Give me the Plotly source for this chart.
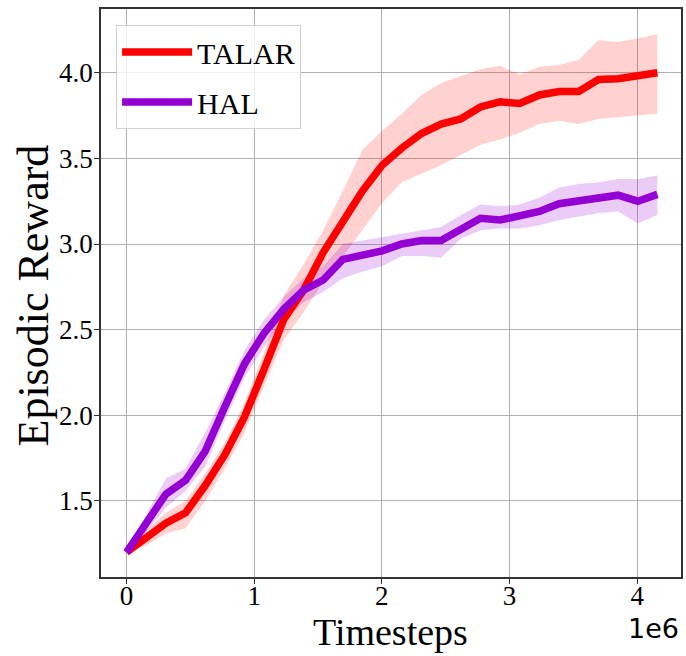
import plotly.graph_objects as go

# ---- data ----
timesteps = [0, 154000, 308000, 462000, 616000, 770000, 924000, 1078000, 1232000,
             1386000, 1540000, 1694000, 1848000, 2002000, 2156000, 2310000, 2464000,
             2618000, 2772000, 2926000, 3080000, 3234000, 3388000, 3542000, 3696000,
             3850000, 4004000, 4158000]

talar_mean = [1.20, 1.29, 1.37, 1.43, 1.59, 1.77, 1.99, 2.27, 2.56, 2.73, 2.95, 3.13,
              3.31, 3.46, 3.56, 3.645, 3.70, 3.73, 3.80, 3.83, 3.82, 3.87, 3.89, 3.89,
              3.96, 3.965, 3.98, 4.00]
talar_upper = [1.20, 1.33, 1.43, 1.50, 1.66, 1.84, 2.07, 2.37, 2.70, 2.88, 3.08, 3.31,
               3.55, 3.66, 3.76, 3.87, 3.94, 3.98, 4.02, 4.04, 3.99, 4.035, 4.045, 4.075,
               4.19, 4.18, 4.20, 4.225]
talar_lower = [1.20, 1.24, 1.31, 1.34, 1.50, 1.69, 1.90, 2.17, 2.44, 2.60, 2.78, 2.925,
               3.08, 3.24, 3.36, 3.41, 3.46, 3.52, 3.58, 3.61, 3.65, 3.70, 3.72, 3.70,
               3.73, 3.74, 3.75, 3.76]

hal_mean = [1.20, 1.37, 1.54, 1.62, 1.79, 2.05, 2.30, 2.48, 2.62, 2.73, 2.79, 2.91,
            2.93, 2.96, 3.00, 3.02, 3.02, 3.08, 3.15, 3.14, 3.16, 3.19, 3.235, 3.25,
            3.265, 3.285, 3.25, 3.29]
hal_upper = [1.20, 1.42, 1.63, 1.69, 1.90, 2.13, 2.38, 2.56, 2.69, 2.80, 2.87, 3.00,
             3.02, 3.04, 3.06, 3.08, 3.10, 3.17, 3.23, 3.22, 3.23, 3.27, 3.33, 3.35,
             3.36, 3.38, 3.38, 3.40]
hal_lower = [1.20, 1.32, 1.46, 1.56, 1.70, 1.97, 2.22, 2.40, 2.55, 2.66, 2.72, 2.80,
             2.84, 2.87, 2.93, 2.93, 2.92, 3.03, 3.08, 3.09, 3.09, 3.11, 3.14, 3.16,
             3.18, 3.19, 3.12, 3.17]

x_tick_vals = [0, 1000000, 2000000, 3000000, 4000000]
x_tick_text = ["0", "1", "2", "3", "4"]
y_tick_vals = [1.5, 2.0, 2.5, 3.0, 3.5, 4.0]
y_tick_text = ["1.5", "2.0", "2.5", "3.0", "3.5", "4.0"]

series_names = ["TALAR", "HAL"]
x_title = "Timesteps"
y_title = "Episodic Reward"
offset_text = "1e6"

RED = "#ff0000"
PURPLE = "#9400d3"
SERIF = "Liberation Serif, Times New Roman, serif"

fig = go.Figure()

# bands
for upper, lower, fillc in [(talar_upper, talar_lower, "rgba(255,0,0,0.18)"),
                            (hal_upper, hal_lower, "rgba(148,0,211,0.2)")]:
    fig.add_trace(go.Scatter(x=timesteps, y=upper, mode="lines",
                             line=dict(width=0, color=fillc), showlegend=False,
                             hoverinfo="skip"))
    fig.add_trace(go.Scatter(x=timesteps, y=lower, mode="lines",
                             line=dict(width=0, color=fillc), fill="tonexty",
                             fillcolor=fillc, showlegend=False, hoverinfo="skip"))

# mean lines
fig.add_trace(go.Scatter(x=timesteps, y=talar_mean, mode="lines", name=series_names[0],
                         legendgroup="g1", line=dict(color=RED, width=7.5)))
fig.add_trace(go.Scatter(x=timesteps, y=hal_mean, mode="lines", name=series_names[1],
                         legendgroup="g2", line=dict(color=PURPLE, width=7.5)))

axis_common = dict(showgrid=True, gridcolor="#b0b0b0", gridwidth=1,
                   showline=True, mirror=True, linecolor="#333333", linewidth=1.5,
                   ticks="outside", ticklen=5, tickwidth=1.2, tickcolor="#333333",
                   zeroline=False,
                   tickfont=dict(family=SERIF, size=27, color="black"))

fig.update_xaxes(range=[-200000, 4343000], tickvals=x_tick_vals, ticktext=x_tick_text,
                 ticklabelstandoff=-11, **axis_common)
fig.update_yaxes(range=[1.056, 4.372], tickvals=y_tick_vals, ticktext=y_tick_text,
                 ticklabelstandoff=-4, **axis_common)

fig.update_layout(
    width=686, height=656,
    margin=dict(l=101, r=3, t=9, b=79),
    paper_bgcolor="white", plot_bgcolor="white",
    showlegend=True,
    legend=dict(x=0.026, y=0.972, xanchor="left", yanchor="top", traceorder="grouped",
                bgcolor="rgba(255,255,255,0.8)", bordercolor="rgba(204,204,204,0.9)",
                borderwidth=1, font=dict(family=SERIF, size=30, color="black"),
                itemwidth=70, tracegroupgap=8),
    annotations=[
        dict(text=x_title, xref="paper", yref="paper", x=0.499, y=0, yshift=-55,
             xanchor="center", yanchor="middle", showarrow=False,
             font=dict(family=SERIF, size=38, color="black")),
        dict(text=y_title, xref="paper", yref="paper", x=0, xshift=-68, y=0.4956,
             xanchor="center", yanchor="middle", textangle=-90, showarrow=False,
             font=dict(family=SERIF, size=44, color="black")),
        dict(text=offset_text, xref="paper", yref="paper", x=1, y=0, yshift=-51,
             xanchor="right", yanchor="middle", showarrow=False,
             font=dict(family="DejaVu Sans, sans-serif", size=27, color="black")),
    ],
)

# remove the default page margin so the 686x656 figure fills the window exactly
fig.write_html("out.html",
               config={"displayModeBar": False},
               post_script="document.body.style.margin='0';"
                           "document.body.style.overflow='hidden';")
